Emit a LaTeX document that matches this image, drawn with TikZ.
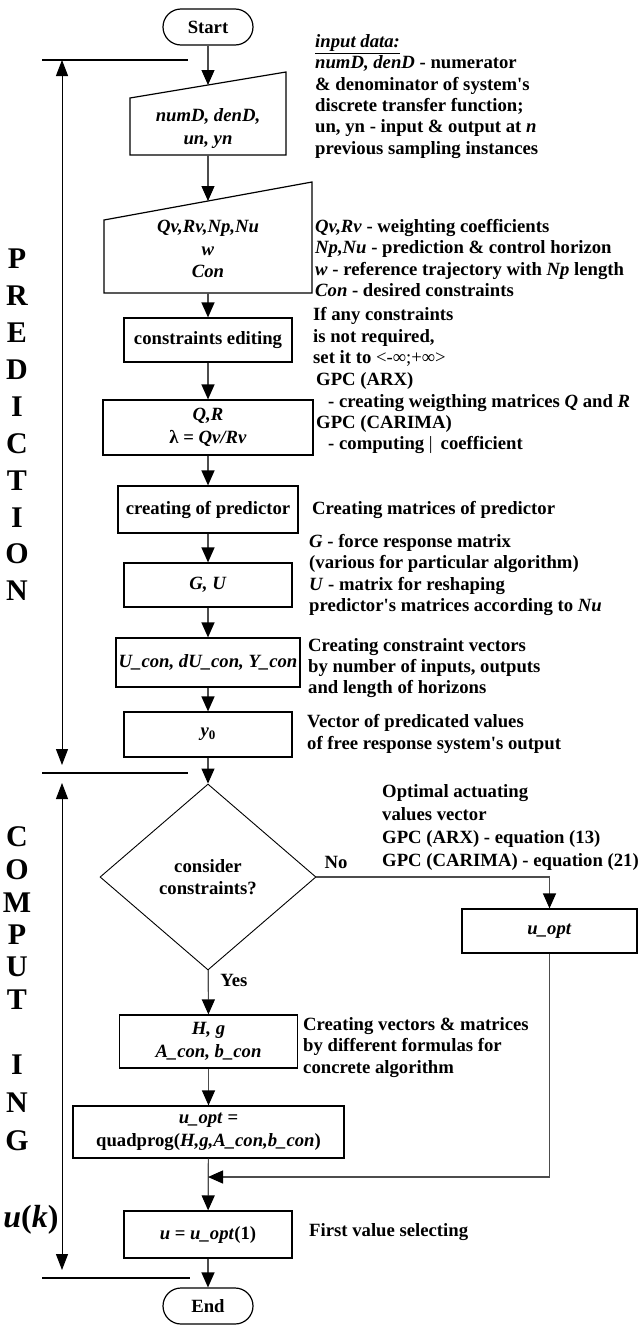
\documentclass[tikz,border=0pt]{standalone}
\usepackage{fontspec}
\setmainfont{Liberation Serif}
\usetikzlibrary{arrows.meta}
\usetikzlibrary{shapes.geometric}
\usetikzlibrary{positioning}
\usetikzlibrary{calc}

\tikzset{
  blk/.style={draw, line width=1.2pt, inner sep=2pt, align=center},
  term/.style={blk, rounded corners=18pt, minimum width=90pt, minimum height=36pt},
  io/.style={inner sep=0pt, align=center},
  note/.style={anchor=west, inner sep=0pt, align=left, font=\fontsize{18.7}{21.3}\selectfont\bfseries},
  arr/.style={line width=1.2pt, draw=black!70, -{Triangle[length=15pt,width=13pt,color=black]}},
  side/.style={line width=1pt, {Triangle[length=16pt,width=12pt]}-{Triangle[length=16pt,width=12pt]}},
  sep/.style={line width=1.2pt},
  big/.style={inner sep=0pt, font=\fontsize{30}{30}\selectfont\bfseries}
}

\begin{document}
\begin{tikzpicture}[x=1pt, y=-1pt, font=\fontsize{18.7}{22.5}\selectfont\bfseries]
  \useasboundingbox (0,0) rectangle (639,1325);

  % main column
  \node[term] (start) at (208,27) {Start};

  \node[io] (in1) at (208,128.5) {\textit{numD, denD,}\\ \textit{un, yn}};
  \draw[line width=1.2pt] ($(in1)+(-78,26.5)$) -- ($(in1)+(78,26.5)$) -- ($(in1)+(78,-56.5)$) -- ($(in1)+(-78,-30.5)$) -- cycle;
  \coordinate (in1top) at ($(in1)+(0,-43.5)$);
  \coordinate (in1bot) at ($(in1)+(0,26.5)$);

  \node[io] (in2) at (208,249) {\textit{Qv,Rv,Np,Nu}\\ \textit{w}\\ \textit{Con}};
  \draw[line width=1.2pt] ($(in2)+(-104,44)$) -- ($(in2)+(104,44)$) -- ($(in2)+(104,-67)$) -- ($(in2)+(-104,-29)$) -- cycle;
  \coordinate (in2top) at ($(in2)+(0,-48)$);
  \coordinate (in2bot) at ($(in2)+(0,44)$);

  \node[blk, minimum width=168pt, minimum height=44pt] (edit) at (208,340) {constraints editing};
  \node[blk, minimum width=210pt, minimum height=55pt] (qr) at (208,427.5) {\textit{Q,R}\\ λ = \textit{Qv/Rv}};
  \node[blk, minimum width=180pt, minimum height=47pt] (pred) at (208,509.5) {creating of predictor};
  \node[blk, minimum width=168pt, minimum height=44pt] (gu) at (208,585) {\textit{G, U}};
  \node[blk, minimum width=184pt, minimum height=49pt] (ucon) at (208,662.5) {\textit{U\_con, dU\_con, Y\_con}};
  \node[blk, minimum width=168pt, minimum height=45pt] (y0) at (208,734.5) {\textit{y}\raisebox{-0.35ex}{\fontsize{13}{13}\selectfont 0}};

  \node[draw, diamond, aspect=1.16, minimum width=216pt, minimum height=186pt, inner sep=0pt, line width=0.9pt, align=center] (dec) at (208,877) {consider\\ constraints?};
  \node (no) at (336,862) {No};
  \node (yes) at (234,980) {Yes};

  \node[blk, minimum width=175pt, minimum height=44pt] (uopt) at (549.5,931) {\textit{u\_opt}};
  \node[blk, minimum width=178pt, minimum height=53pt] (hg) at (208.5,1041.5) {\textit{H, g}\\ \textit{A\_con, b\_con}};
  \node[blk, minimum width=271pt, minimum height=52pt] (quad) at (208.5,1132) {\textit{u\_opt} =\\ quadprog(\textit{H,g,A\_con,b\_con})};
  \node[blk, minimum width=168pt, minimum height=47pt] (u1) at (208,1234.5) {\textit{u} = \textit{u\_opt}(1)};
  \node[term] (end) at (208,1306) {End};
  \coordinate (join) at (208,1177);

  \draw[arr] (start) -- (in1top);
  \draw[arr] (in1bot) -- (in2top);
  \draw[arr] (in2bot) -- (edit);
  \draw[arr] (edit) -- (qr);
  \draw[arr] (qr) -- (pred);
  \draw[arr] (pred) -- (gu);
  \draw[arr] (gu) -- (ucon);
  \draw[arr] (ucon) -- (y0);
  \draw[arr] (y0) -- (dec);
  \draw[arr] (dec.east) -| (uopt);
  \draw[arr] (dec) -- (hg);
  \draw[arr] (hg) -- (quad);
  \draw[arr] (quad) -- (u1);
  \draw[arr] (uopt) |- (join);
  \draw[arr] (u1) -- (end);

  % phases on the left
  \coordinate (s1a) at (42,60);   \coordinate (s1b) at (188,60);
  \coordinate (s2a) at (42,773);  \coordinate (s2b) at (188,773);
  \coordinate (s3a) at (42,1278); \coordinate (s3b) at (190,1278);
  \draw[sep] (s1a) -- (s1b);
  \draw[sep] (s2a) -- (s2b);
  \draw[sep] (s3a) -- (s3b);
  \coordinate (p1) at (62,60);  \coordinate (p2) at (62,765);
  \coordinate (c1) at (62,783); \coordinate (c2) at (62,1270);
  \draw[side] (p1) -- (p2);
  \draw[side] (c1) -- (c2);

  \foreach \l [count=\i from 0] in {P,R,E,D,I,C,T,I,O,N}
    \node[big] (pre\i) at (17,259+36.9*\i) {\l};
  \foreach \l/\yy [count=\i] in {C/837,O/870,M/903,P/935,U/967,T/1000,I/1065,N/1103,G/1141}
    \node[big] (cmp\i) at (17,\yy) {\l};
  \node[big, font=\fontsize{32}{32}\selectfont\bfseries] (uk) at (31,1220) {\textit{u}(\textit{k})};

  % notes
  \node[note] (n1) at (315,96.5) {\underline{\textit{input data:}}\\ \textit{numD, denD} - numerator\\ \& denominator of system\textquotesingle s\\ discrete transfer function;\\ un, yn - input \& output at \textit{n}\\ previous sampling instances};
  \node[note] (n2) at (315,258) {\textit{Qv,Rv} - weighting coefficients\\ \textit{Np,Nu} - prediction \& control horizon\\ \textit{w} - reference trajectory with \textit{Np} length\\ \textit{Con} - desired constraints};
  \node[note] (n3) at (313,337) {If any constraints\\ is not required,\\ set it to {\mdseries <-∞;+∞>}};
  \node[note] (n4) at (316,413.5) {GPC (ARX)\\ \hspace*{12pt}- creating weigthing matrices \textit{Q} and \textit{R}\\ GPC (CARIMA)\\ \hspace*{12pt}- computing {\mdseries |}\hspace{8pt}coefficient};
  \node[note] (n5) at (312,510) {Creating matrices of predictor};
  \node[note] (n6) at (309,575) {\textit{G} - force response matrix\\ (various for particular algorithm)\\ \textit{U} - matrix for reshaping\\ predictor\textquotesingle s matrices according to \textit{Nu}};
  \node[note] (n7) at (308,668) {Creating constraint vectors\\ by number of inputs, outputs\\ and length of horizons};
  \node[note] (n8) at (307,734) {Vector of predicated values\\ of free response system\textquotesingle s output};
  \node[note, font=\fontsize{18.7}{23}\selectfont\bfseries] (n9) at (382,827.5) {Optimal actuating\\ values vector\\ GPC (ARX) - equation (13)\\ GPC (CARIMA) - equation (21)};
  \node[note] (n10) at (303,1047.5) {Creating vectors \& matrices\\ by different formulas for\\ concrete algorithm};
  \node[note] (n11) at (309,1232) {First value selecting};
\end{tikzpicture}
\end{document}
